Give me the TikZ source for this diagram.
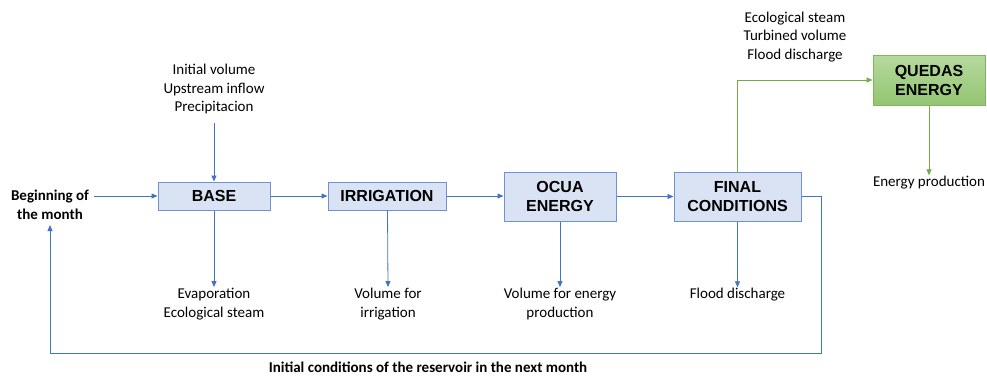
\documentclass[tikz,border=0pt]{standalone}
\usepackage{fontspec}
\setmainfont{Carlito}
\newfontfamily\boxfont{Liberation Sans}
\usetikzlibrary{arrows.meta}
\definecolor{bfill}{HTML}{DAE3F3}
\definecolor{bline}{HTML}{6F92D6}
\definecolor{arrblue}{HTML}{4472C4}
\definecolor{gtop}{HTML}{B6D99E}
\definecolor{gbot}{HTML}{93C572}
\definecolor{gline}{HTML}{7DB85A}
\definecolor{garrc}{HTML}{70AD47}
\tikzset{
  procbox/.style={draw=bline, line width=1pt, fill=bfill, font=\boxfont\bfseries\fontsize{16}{19}\selectfont, align=center, inner sep=0pt},
  greenbox/.style={draw=gline, line width=1pt, top color=gtop, bottom color=gbot, font=\boxfont\bfseries\fontsize{16}{19}\selectfont, align=center, inner sep=0pt},
  lbl/.style={font=\fontsize{15}{18.5}\selectfont, align=center, inner sep=1pt},
  blbl/.style={font=\bfseries\fontsize{15}{19}\selectfont, align=center, inner sep=1pt},
  arr/.style={draw=arrblue, line width=0.8pt, -{Triangle[length=6pt,width=5pt]}},
  garr/.style={draw=garrc, line width=0.8pt, -{Triangle[length=6pt,width=5pt]}}
}
\begin{document}
\begin{tikzpicture}[x=1pt,y=-1pt]
\useasboundingbox (0,0) rectangle (987,376);
% boxes
\node[procbox, minimum width=112pt, minimum height=28pt] (base) at (214,196) {BASE};
\node[procbox, minimum width=118pt, minimum height=28pt] (irr) at (387,196) {IRRIGATION};
\node[procbox, minimum width=112pt, minimum height=49pt] (ocua) at (560,196.5) {OCUA\\ENERGY};
\node[procbox, minimum width=127pt, minimum height=49pt] (final) at (737.5,196.5) {FINAL\\CONDITIONS};
\node[greenbox, minimum width=112pt, minimum height=50pt] (quedas) at (929,80) {QUEDAS\\ENERGY};
% labels
\node[blbl] (begin) at (50,205) {Beginning of\\the month};
\node[lbl] (intop) at (214,89) {Initial volume\\Upstream inflow\\Precipitacion};
\node[lbl] (evap) at (214,304) {Evaporation\\Ecological steam};
\node[lbl] (volirr) at (388,304) {Volume for\\irrigation};
\node[lbl] (volen) at (560,304) {Volume for energy\\production};
\node[lbl] (flood) at (737.5,295) {Flood discharge};
\node[lbl] (qtop) at (795,37) {Ecological steam\\Turbined volume\\Flood discharge};
\node[lbl] (eprod) at (929,183) {Energy production};
\node[blbl] (next) at (428,367) {Initial conditions of the reservoir in the next month};
\coordinate (loopc) at (821,353);
% connectors
\draw[arr] (intop.south |- 0,123) -- (base.north);
\draw[arr] (begin.east |- base.west) ++(4,0) -- (base.west);
\draw[arr] (base.south) -- (evap.north);
\draw[arr] (base.east) -- (irr.west);
\draw[arr] (irr.east) -- (ocua.west |- irr.east);
\draw[arr] (ocua.east |- final.west) -- (final.west);
\draw[arr] (irr.south) ++(0.5,0) -- (volirr.north);
\draw[arr] (ocua.south) -- (volen.north);
\draw[arr] (final.south) -- (flood.north);
\draw[arr] (final.east) -| (loopc) -| ([yshift=-4pt]begin.south);
\draw[garr] (final.north) |- (quedas.west);
\draw[garr] (quedas.south) -- (eprod.north);
\end{tikzpicture}
\end{document}
